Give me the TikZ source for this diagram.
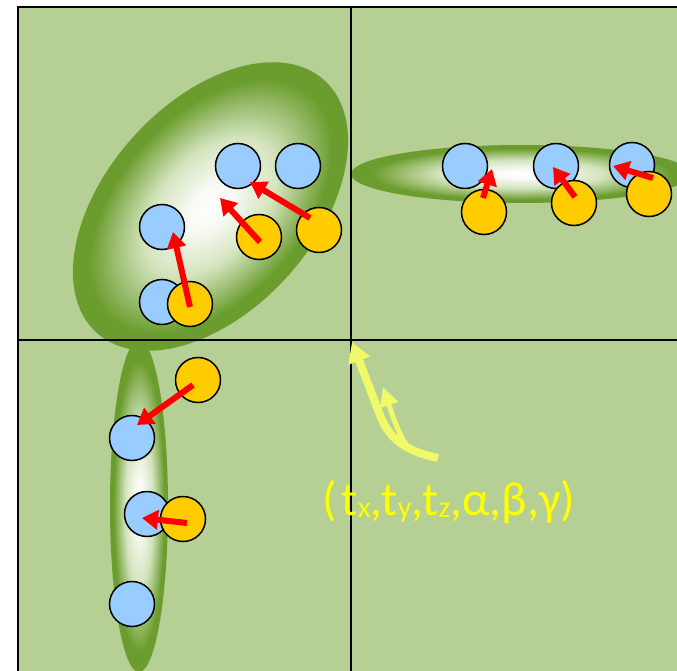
\documentclass[tikz,border=0pt]{standalone}
\usepackage{fontspec}
\setmainfont{Carlito}
\usetikzlibrary{arrows.meta}
\definecolor{bg}{RGB}{182,207,148}
\definecolor{eg}{RGB}{107,157,46}
\definecolor{cblue}{RGB}{153,204,255}
\definecolor{corange}{RGB}{255,204,0}
\definecolor{yarrow}{RGB}{240,250,105}
\definecolor{ytext}{RGB}{255,255,0}
\definecolor{egA}{RGB}{248,250,244}
\definecolor{egB}{RGB}{212,228,190}
\definecolor{egC}{RGB}{150,186,105}
\pgfdeclareradialshading{ellgrad}{\pgfpoint{0bp}{0bp}}{color(0bp)=(white); color(4bp)=(egA); color(12bp)=(egB); color(18bp)=(egC); color(22bp)=(eg); color(25bp)=(eg); color(50bp)=(eg)}
\newcommand{\sbs}[1]{\raisebox{-2pt}{\fontsize{30}{30}\selectfont #1}}
\begin{document}
\begin{tikzpicture}[x=1pt,y=-1pt,
  bluedot/.style={circle, draw=black, line width=1.5pt, fill=cblue, minimum size=45pt, inner sep=0pt},
  orangedot/.style={circle, draw=black, line width=1.5pt, fill=corange, minimum size=45pt, inner sep=0pt},
  mv/.style={draw=red, line width=6pt, -{Triangle[length=16pt,width=19pt]}},
  ymain/.style={draw=yarrow, line width=8pt, -{Triangle[length=20pt,width=22pt]}},
  yinner/.style={draw=yarrow, line width=5pt, -{Triangle[length=19pt,width=18pt]}}]
\useasboundingbox (0,0) rectangle (677,671);
\fill[white] (0,0) rectangle (677,671);
\draw[fill=bg, line width=2pt] (18,7) rectangle (700,700);
% ellipses
\begin{scope}[transform canvas={shift={(210.5,206.5)},rotate=48}]
\shade[shading=ellgrad] (0,0) ellipse (170 and 104);
\end{scope}
\shade[shading=ellgrad] (521,174) ellipse (170 and 29);
\shade[shading=ellgrad] (139,506) ellipse (29 and 166);
% axes
\draw[line width=2pt] (351,7) -- (351,700);
\draw[line width=2pt] (18,340) -- (700,340);
% blue dots
\node[bluedot] (b1) at (238,166) {};
\node[bluedot] (b2) at (298,166) {};
\node[bluedot] (b3) at (162,227) {};
\node[bluedot] (b4) at (162,302) {};
\node[bluedot] (b5) at (465,166) {};
\node[bluedot] (b6) at (556,166) {};
\node[bluedot] (b7) at (632,165) {};
\node[bluedot] (b8) at (132,438) {};
\node[bluedot] (b9) at (147,514) {};
\node[bluedot] (b10) at (132,604) {};
% orange dots
\node[orangedot] (o1) at (259,237) {};
\node[orangedot] (o2) at (319,230) {};
\node[orangedot] (o3) at (190,304) {};
\node[orangedot] (o4) at (484,212) {};
\node[orangedot] (o5) at (574,203) {};
\node[orangedot] (o6) at (649,194) {};
\node[orangedot] (o7) at (198,380) {};
\node[orangedot] (o8) at (183,519) {};
% arrow ends
\coordinate (s1) at (260,242); \coordinate (t1) at (220,198);
\coordinate (s2) at (310,218); \coordinate (t2) at (250,182);
\coordinate (s3) at (190,307); \coordinate (t3) at (173,232);
\coordinate (s4) at (483,198); \coordinate (t4) at (492,169);
\coordinate (s5) at (575,197); \coordinate (t5) at (553,167);
\coordinate (s6) at (653,178); \coordinate (t6) at (613,166);
\coordinate (s7) at (193,385); \coordinate (t7) at (137,425);
\coordinate (s8) at (187,523); \coordinate (t8) at (142,518);
\draw[mv] (s1) -- (t1);
\draw[mv] (s2) -- (t2);
\draw[mv] (s3) -- (t3);
\draw[mv] (s4) -- (t4);
\draw[mv] (s5) -- (t5);
\draw[mv] (s6) -- (t6);
\draw[mv] (s7) -- (t7);
\draw[mv] (s8) -- (t8);
% yellow arrows
\coordinate (ys) at (438,458);
\coordinate (yt) at (352,342);
\coordinate (ys2) at (406,444);
\coordinate (yt2) at (383,387);
\draw[yinner] (ys2) .. controls (399,434) and (394,420) .. (yt2);
\draw[ymain] (ys) .. controls (410,452) and (390,442) .. (380,415) -- (yt);
% label
\node[anchor=base west, text=ytext, font=\fontsize{48}{50}\selectfont, inner sep=0pt] (lbl) at (322,515) {(\hspace{5pt}t\sbs{x},t\sbs{y},t\sbs{z},α,β,γ)};
\end{tikzpicture}
\end{document}
